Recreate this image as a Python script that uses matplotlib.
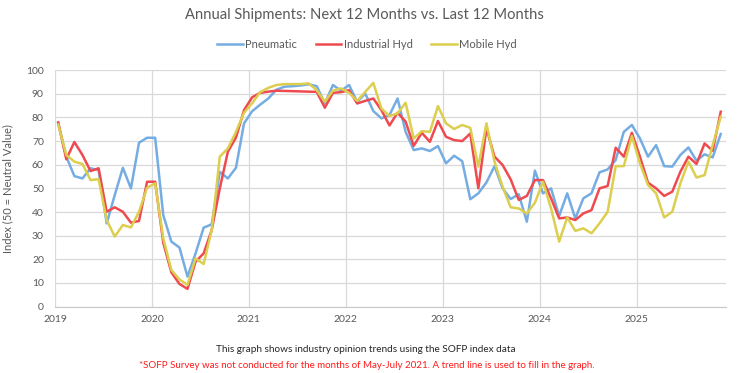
import numpy as np
import matplotlib.pyplot as plt

plt.rcParams['font.family'] = ['Lato', 'DejaVu Sans']

# monthly index values, Jan 2019 - Nov 2025
pneumatic = [77.5, 63.4, 55.2, 54.2, 58.5, 57.7, 35.2, 47.2, 58.7, 50.0, 69.3, 71.4,
             71.4, 38.7, 27.5, 25.0, 12.7, 22.5, 33.4, 34.8, 57.0, 54.2, 58.7, 77.5,
             82.6, 85.4, 88.0, 91.7, 93.0, 93.2, 93.5, 94.0, 93.2, 85.9, 93.7, 91.3,
             93.7, 86.6, 90.1, 82.7, 79.6, 81.0, 88.0, 73.9, 66.2, 66.9, 65.8, 67.9,
             60.6, 63.8, 61.5, 45.4, 47.9, 52.5, 59.4, 50.0, 45.5, 47.5, 35.9, 57.5,
             47.9, 50.0, 38.3, 47.9, 37.3, 45.8, 47.9, 56.8, 58.0, 62.0, 73.9, 76.8,
             71.1, 63.4, 68.3, 59.4, 59.2, 64.1, 67.3, 61.7, 64.4, 63.1, 73.0]

industrial_hyd = [77.9, 62.3, 69.6, 64.1, 57.3, 58.5, 40.1, 42.0, 40.1, 35.5, 36.2, 52.8,
                  52.8, 27.0, 14.5, 9.6, 7.5, 19.0, 22.5, 32.4, 50.0, 65.5, 71.5, 83.1,
                  88.5, 90.4, 90.9, 91.3, 91.2, 91.1, 91.0, 90.9, 90.8, 84.1, 90.4, 90.7,
                  91.5, 85.9, 87.0, 88.0, 83.1, 76.6, 82.0, 78.2, 68.0, 73.5, 69.7, 78.5,
                  71.8, 70.4, 70.0, 73.2, 50.0, 75.4, 63.4, 59.9, 53.8, 45.1, 46.8, 53.5,
                  53.5, 45.8, 37.3, 37.7, 36.6, 39.4, 40.8, 50.0, 51.0, 67.2, 63.4, 73.5,
                  63.4, 52.4, 50.0, 46.8, 48.6, 57.0, 63.4, 60.3, 69.0, 65.9, 82.4]

mobile_hyd = [77.0, 64.1, 61.3, 60.3, 53.5, 53.9, 36.6, 29.6, 34.5, 33.5, 40.1, 50.3,
              52.1, 28.9, 15.5, 11.5, 9.2, 20.4, 18.0, 32.4, 63.4, 66.9, 73.9, 82.0,
              86.0, 90.7, 92.5, 93.7, 94.1, 94.1, 94.1, 94.4, 91.5, 86.6, 91.3, 92.3,
              90.4, 87.0, 90.8, 94.6, 83.8, 80.6, 81.7, 86.2, 71.1, 74.2, 73.9, 84.8,
              77.5, 75.1, 76.8, 75.6, 59.2, 77.5, 61.3, 50.7, 42.0, 41.5, 39.4, 43.9,
              52.8, 41.5, 27.5, 37.7, 32.0, 33.1, 31.0, 35.2, 40.1, 59.4, 59.4, 72.1,
              60.6, 51.4, 47.9, 37.7, 40.1, 52.1, 61.3, 54.6, 55.6, 68.3, 80.3]

years = [2019, 2020, 2021, 2022, 2023, 2024, 2025]

x = 2019 + (np.arange(len(pneumatic)) + 0.4) / 12

fig = plt.figure(figsize=(7.43, 3.73), dpi=100)
ax = fig.add_axes([0.074, 0.178, 0.903, 0.634])

ax.plot(x, pneumatic, color='#75ade3', lw=1.8, label='Pneumatic')
ax.plot(x, industrial_hyd, color='#ef4a4f', lw=1.8, label='Industrial Hyd')
ax.plot(x, mobile_hyd, color='#dcce4e', lw=1.8, label='Mobile Hyd')

ax.set_xlim(2019, 2025.92)
ax.set_ylim(0, 100)
ax.set_yticks(range(0, 101, 10))
ax.set_xticks(years)
ax.set_xticklabels([str(y) for y in years])
ax.grid(True, color='#d9d9d9', lw=0.9)
ax.set_axisbelow(True)
for s in ['top', 'right', 'left']:
    ax.spines[s].set_visible(False)
ax.spines['bottom'].set_color('#c8c8c8')
ax.tick_params(length=0, labelsize=7.5, colors='#595959')
ax.tick_params(axis='y', pad=8)
ax.tick_params(axis='x', pad=6)
ax.set_ylabel('Index (50 = Neutral Value)', fontsize=8, color='#595959', labelpad=9)

fig.text(0.491, 0.96, 'Annual Shipments: Next 12 Months vs. Last 12 Months',
         ha='center', va='center', fontsize=10.6, color='#595959')
fig.legend(loc='center', bbox_to_anchor=(0.494, 0.882), ncol=3, frameon=False,
           fontsize=8, handlelength=2.3, columnspacing=1.7, handletextpad=0.2,
           labelcolor='#595959')
fig.text(0.493, 0.063, 'This graph shows industry opinion trends using the SOFP index data',
         ha='center', va='center', fontsize=7.2, color='#262626')
fig.text(0.493, 0.019, '*SOFP Survey was not conducted for the months of May-July 2021. '
         'A trend line is used to fill in the graph.',
         ha='center', va='center', fontsize=7, color='#ff1a1a')

fig.savefig('out.png', dpi=100)
